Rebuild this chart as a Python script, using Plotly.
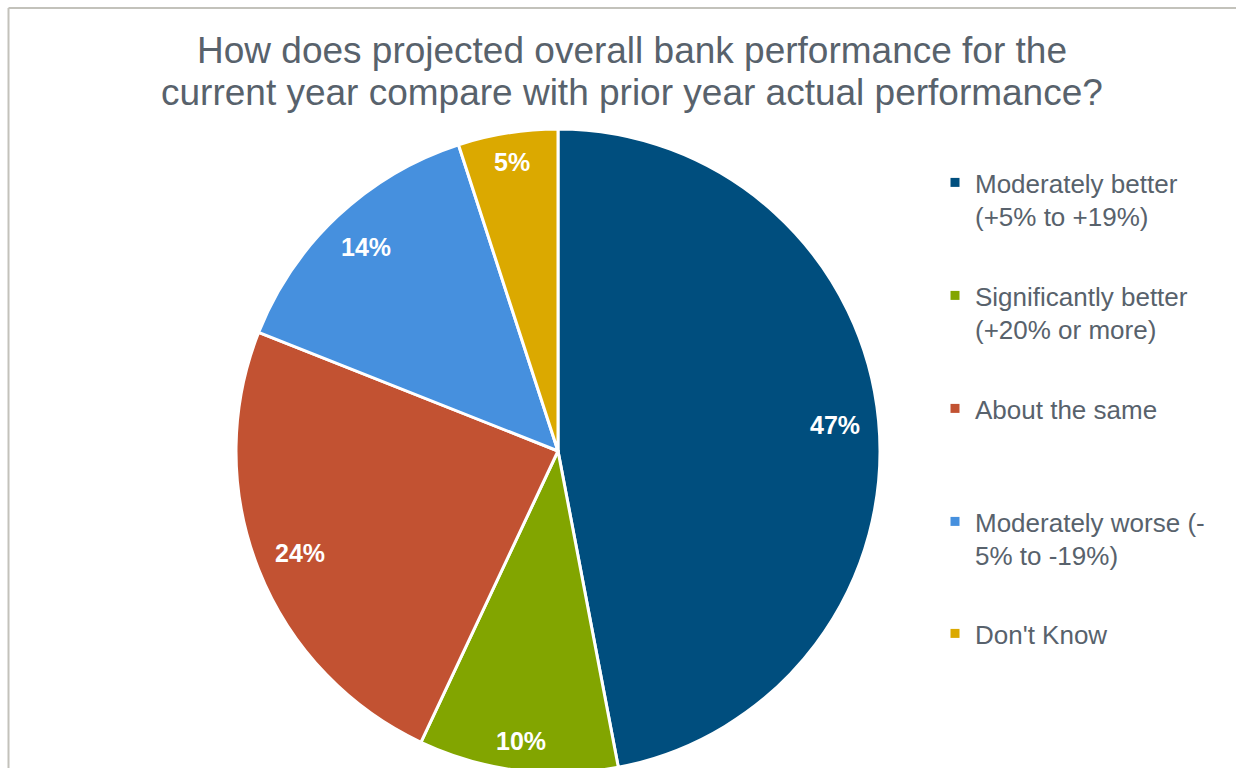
import math
import plotly.graph_objects as go

# Survey responses
categories = [
    "Moderately better<br>(+5% to +19%)",
    "Significantly better<br>(+20% or more)",
    "About the same",
    "Moderately worse (-<br>5% to -19%)",
    "Don't Know",
]
shares = [47, 10, 24, 14, 5]
colors = ["#004E7E", "#82A500", "#C25232", "#4690DE", "#DBA900"]

title_lines = [
    "How does projected overall bank performance for the",
    "current year compare with prior year actual performance?",
]

W, H = 1236, 800
FONT = "Liberation Sans, Arial, sans-serif"
text_color = "#58626C"

# Pie geometry in pixels
CX, CY, R = 558, 451, 322

fig = go.Figure()

fig.add_trace(go.Pie(
    labels=categories,
    values=shares,
    sort=False,
    direction="clockwise",
    rotation=0,
    marker=dict(colors=colors, line=dict(color="white", width=3)),
    textinfo="none",
    showlegend=False,
    hoverinfo="label+percent",
    domain=dict(x=[(CX - R) / W, (CX + R) / W],
                y=[(H - CY - R) / H, (H - CY + R) / H]),
))

# Value labels placed just inside the outer edge of each slice
label_size = 25
annotations = []
total = sum(shares)
cum = 0
for v in shares:
    mid = (cum + v / 2) / total * 2 * math.pi
    cum += v
    dx, dy = math.sin(mid), -math.cos(mid)
    txt = f"{v}%"
    tw = (0.556 * (len(txt) - 1) + 0.889) * label_size
    th = 0.72 * label_size
    extent = abs(dx) * tw / 2 + abs(dy) * th / 2
    r = R - extent - 18
    px, py = CX + dx * r, CY + dy * r
    annotations.append(dict(
        text=f"<b>{txt}</b>", x=px / W, y=1 - py / H, xref="paper", yref="paper",
        xanchor="center", yanchor="middle", showarrow=False,
        font=dict(family=FONT, size=label_size, color="white"),
    ))

# Title, one annotation per line
for line, yc in zip(title_lines, [50, 93]):
    annotations.append(dict(
        text=line, x=632 / W, y=1 - yc / H, xref="paper", yref="paper",
        xanchor="center", yanchor="middle", showarrow=False,
        font=dict(family=FONT, size=37, color=text_color),
    ))

# One legend per category so the entries can be spaced like the panel
legend_tops = [159, 272, 385, 498, 610]
layout_legends = {}
for i, (name, col, top) in enumerate(zip(categories, colors, legend_tops)):
    key = "legend" if i == 0 else f"legend{i + 1}"
    fig.add_trace(go.Scatter(
        x=[None], y=[None], mode="markers", name=name,
        marker=dict(symbol="square", size=9, color=col),
        legend=key, showlegend=True, hoverinfo="skip",
    ))
    layout_legends[key] = dict(
        x=935 / W, y=1 - top / H, xanchor="left", yanchor="top",
        valign="top", bgcolor="rgba(0,0,0,0)", borderwidth=0,
        font=dict(family=FONT, size=26, color=text_color),
        itemclick=False, itemdoubleclick=False,
    )

fig.update_layout(
    width=W, height=H,
    margin=dict(l=0, r=0, t=0, b=0),
    paper_bgcolor="white",
    plot_bgcolor="white",
    xaxis=dict(visible=False),
    yaxis=dict(visible=False),
    annotations=annotations,
    shapes=[
        dict(type="line", xref="paper", yref="paper",
             x0=8.5 / W, x1=1.0, y0=1 - 8 / H, y1=1 - 8 / H,
             line=dict(color="#C3C2BB", width=2)),
        dict(type="line", xref="paper", yref="paper",
             x0=8.5 / W, x1=8.5 / W, y0=0, y1=1 - 8 / H,
             line=dict(color="#C3C2BB", width=2)),
    ],
    **layout_legends,
)

fig.write_html("out.html", post_script="document.body.style.overflow='hidden';")
